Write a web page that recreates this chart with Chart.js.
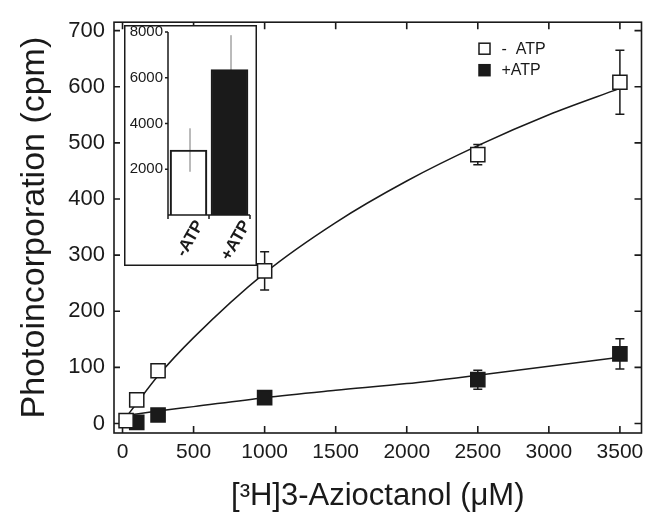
<!DOCTYPE html>
<html><head><meta charset="utf-8">
<script src="https://cdn.jsdelivr.net/npm/chart.js@4/dist/chart.umd.min.js"></script>
<style>
html,body{margin:0;padding:0;background:#fff;}
#wrap{position:relative;width:653px;height:522px;overflow:hidden;}
#main{position:absolute;left:0;top:0;}
#inset{position:absolute;left:124px;top:25px;}
</style></head><body>
<div id="wrap"><canvas id="main" width="653" height="522"></canvas><canvas id="inset" width="133" height="241"></canvas></div>
<script>
// ---- data ----
const xTicks = [0, 500, 1000, 1500, 2000, 2500, 3000, 3500];
const yTicks = [0, 100, 200, 300, 400, 500, 600, 700];

const concNoATP = [25, 100, 250, 1000, 2500, 3500];
const cpmNoATP  = [5, 42, 94, 272, 479, 608];
const errNoATP  = [0, 0, 10, 34, 18, 57];

const concATP = [100, 250, 1000, 2500, 3500];
const cpmATP  = [2, 15, 46, 78, 124];
const errATP  = [0, 0, 0, 17, 27];

const fitConc   = [0, 100, 250, 500, 1000, 1500, 2000, 2500, 3000, 3500];
const fitNoATP  = [3, 36, 85, 153, 268, 358, 432, 495, 550, 597];
const fitATP    = [14, 17, 22, 30, 46, 59, 71, 86, 102, 118];

const insetCats  = ['-ATP', '+ATP'];
const insetVals  = [2840, 6360];
const insetErr   = [950, 1500];
const insetTicks = [2000, 4000, 6000, 8000];

const xTitle = '[\u00B3H]3-Azioctanol (\u03BCM)';
const yTitle = 'Photoincorporation (cpm)';
const legendLabels = ['-  ATP', '+ATP'];

// ---- styling ----
const INK = '#1a1a1a';
const FONT = "'Liberation Sans', Arial, Helvetica, sans-serif";

const pts = (xs, ys) => xs.map((v, i) => ({x: v, y: ys[i]}));

const errorBars = {
  id: 'errorBars',
  beforeDatasetsDraw(chart) {
    const {ctx, scales: {x, y}} = chart;
    ctx.save();
    ctx.strokeStyle = INK; ctx.lineWidth = 1.5;
    const draw = (xs, ys, es) => xs.forEach((xv, i) => {
      if (!es[i]) return;
      const px = x.getPixelForValue(xv);
      const t = y.getPixelForValue(ys[i] + es[i]);
      const b = y.getPixelForValue(ys[i] - es[i]);
      ctx.beginPath();
      ctx.moveTo(px, t); ctx.lineTo(px, b);
      ctx.moveTo(px - 4.5, t); ctx.lineTo(px + 4.5, t);
      ctx.moveTo(px - 4.5, b); ctx.lineTo(px + 4.5, b);
      ctx.stroke();
    });
    draw(concNoATP, cpmNoATP, errNoATP);
    draw(concATP, cpmATP, errATP);
    ctx.restore();
  }
};

const frame = {
  id: 'frame',
  beforeDatasetsDraw(chart) {
    const {ctx, chartArea: a, scales: {x, y}} = chart;
    ctx.save();
    ctx.strokeStyle = INK; ctx.lineWidth = 1.6;
    ctx.strokeRect(a.left, a.top, a.right - a.left, a.bottom - a.top);
    ctx.beginPath();
    xTicks.forEach(v => {
      const p = x.getPixelForValue(v);
      ctx.moveTo(p, a.bottom); ctx.lineTo(p, a.bottom - 7);
      ctx.moveTo(p, a.top); ctx.lineTo(p, a.top + 7);
    });
    yTicks.forEach(v => {
      const p = y.getPixelForValue(v);
      ctx.moveTo(a.left, p); ctx.lineTo(a.left + 6, p);
      ctx.moveTo(a.right, p); ctx.lineTo(a.right - 7, p);
    });
    ctx.stroke();
    ctx.restore();
  }
};

const legendBox = {
  id: 'legendBox',
  afterDraw(chart) {
    const {ctx, chartArea: a} = chart;
    const items = chart.data.datasets.filter(d => d.inLegend);
    ctx.save();
    ctx.font = '16px ' + FONT;
    ctx.textBaseline = 'middle';
    ctx.textAlign = 'left';
    items.forEach((d, i) => {
      const cx = a.right - 157;
      const cy = a.top + 26.5 + i * 21.5;
      ctx.fillStyle = d.backgroundColor;
      ctx.strokeStyle = INK; ctx.lineWidth = 1.5;
      ctx.fillRect(cx - 5.5, cy - 5.5, 11, 11);
      ctx.strokeRect(cx - 5.5, cy - 5.5, 11, 11);
      ctx.fillStyle = INK;
      ctx.fillText(d.label, cx + 17, cy + 0.5);
    });
    ctx.restore();
  }
};

new Chart(document.getElementById('main'), {
  type: 'scatter',
  data: {
    datasets: [
      {label: 'fit -ATP', data: pts(fitConc, fitNoATP), showLine: true, borderColor: INK, borderWidth: 1.5,
       pointRadius: 0, cubicInterpolationMode: 'monotone', fill: false, order: 3},
      {label: 'fit +ATP', data: pts(fitConc, fitATP), showLine: true, borderColor: INK, borderWidth: 1.5,
       pointRadius: 0, cubicInterpolationMode: 'monotone', fill: false, order: 3},
      {label: legendLabels[0], inLegend: true, data: pts(concNoATP, cpmNoATP), pointStyle: 'rect', pointRadius: 10,
       backgroundColor: '#ffffff', borderColor: INK, borderWidth: 1.5, order: 1},
      {label: legendLabels[1], inLegend: true, data: pts(concATP, cpmATP), pointStyle: 'rect', pointRadius: 10,
       backgroundColor: INK, borderColor: INK, borderWidth: 1.5, order: 2}
    ]
  },
  options: {
    responsive: false, animation: false, events: [],
    layout: {padding: {left: 0, top: 18, right: 10, bottom: 0}},
    plugins: {legend: {display: false}, tooltip: {enabled: false}},
    scales: {
      x: {
        type: 'linear', min: -60, max: 3652,
        afterBuildTicks(s) { s.ticks = xTicks.map(v => ({value: v})); },
        afterFit(s) { s.height = 89; },
        grid: {display: false, drawTicks: false, tickLength: 0}, border: {display: false},
        ticks: {font: {family: FONT, size: 21}, color: INK, padding: 7, maxRotation: 0, callback: v => String(v)},
        title: {display: true, text: xTitle, font: {family: FONT, size: 31, lineHeight: 1}, color: INK,
                padding: {top: 0, bottom: 10}}
      },
      y: {
        type: 'linear', min: -17, max: 715,
        afterBuildTicks(s) { s.ticks = yTicks.map(v => ({value: v})); },
        afterFit(s) { s.width = 114; },
        grid: {display: false, drawTicks: false, tickLength: 0}, border: {display: false},
        ticks: {font: {family: FONT, size: 22}, color: INK, padding: 9, callback: v => String(v)},
        title: {display: true, text: yTitle, font: {family: FONT, size: 34, lineHeight: 1}, color: INK,
                padding: {top: 18, bottom: 0}}
      }
    }
  },
  plugins: [frame, errorBars, legendBox]
});

// ---- inset ----
const insetDeco = {
  id: 'insetDeco',
  beforeDraw(chart) {
    const {ctx, width, height} = chart;
    ctx.save();
    ctx.fillStyle = '#fff'; ctx.fillRect(0, 0, width, height);
    ctx.strokeStyle = INK; ctx.lineWidth = 1.5;
    ctx.strokeRect(0.75, 0.75, width - 1.5, height - 1.5);
    ctx.restore();
  },
  beforeDatasetsDraw(chart) {
    const {ctx, scales: {x, y}} = chart;
    ctx.save();
    ctx.strokeStyle = '#777'; ctx.lineWidth = 1;
    insetVals.forEach((v, i) => {
      const px = x.getPixelForValue(i) + 1.5;
      ctx.beginPath();
      ctx.moveTo(px, y.getPixelForValue(v + insetErr[i]));
      ctx.lineTo(px, y.getPixelForValue(v - insetErr[i]));
      ctx.stroke();
    });
    ctx.restore();
  },
  afterDatasetsDraw(chart) {
    const {ctx, chartArea: a, scales: {x, y}} = chart;
    ctx.save();
    ctx.strokeStyle = INK; ctx.lineWidth = 1.5;
    ctx.beginPath();
    ctx.moveTo(a.left, a.top); ctx.lineTo(a.left, a.bottom); ctx.lineTo(a.right, a.bottom);
    insetTicks.forEach(v => { const p = y.getPixelForValue(v); ctx.moveTo(a.left - 3, p); ctx.lineTo(a.left, p); });
    const half = (x.getPixelForValue(1) - x.getPixelForValue(0)) / 2;
    [x.getPixelForValue(0) - half, x.getPixelForValue(0) + half, x.getPixelForValue(1) + half].forEach(p => {
      ctx.moveTo(p, a.bottom); ctx.lineTo(p, a.bottom + 4);
    });
    ctx.stroke();
    ctx.restore();
  }
};

new Chart(document.getElementById('inset'), {
  type: 'bar',
  data: {
    labels: insetCats,
    datasets: [{data: insetVals, backgroundColor: ['rgba(255,255,255,0)', INK], borderColor: INK,
                borderWidth: 1.5, barThickness: 37}]
  },
  options: {
    responsive: false, animation: false, events: [],
    layout: {padding: {left: 0, top: 7, right: 7, bottom: 0}},
    plugins: {legend: {display: false}, tooltip: {enabled: false}},
    scales: {
      x: {
        grid: {display: false, drawTicks: false, tickLength: 0}, border: {display: false},
        afterBuildTicks(s) { s.ticks = insetCats.map((c, i) => ({value: i * 1.14 + 0.28})); },
        afterFit(s) { s.height = 51; s.paddingLeft = 0; s.paddingRight = 0; },
        ticks: {font: {family: FONT, size: 17, weight: 'bold'}, color: INK, minRotation: 60, maxRotation: 60, padding: 2,
                callback: (v, i) => insetCats[i]}
      },
      y: {
        min: 0, max: 8000,
        afterBuildTicks(s) { s.ticks = insetTicks.map(v => ({value: v})); },
        afterFit(s) { s.width = 44; s.paddingTop = 0; s.paddingBottom = 0; },
        grid: {display: false, drawTicks: false, tickLength: 0}, border: {display: false},
        ticks: {font: {family: FONT, size: 15}, color: INK, padding: 5, callback: v => String(v)}
      }
    }
  },
  plugins: [insetDeco]
});
</script>
</body></html>
